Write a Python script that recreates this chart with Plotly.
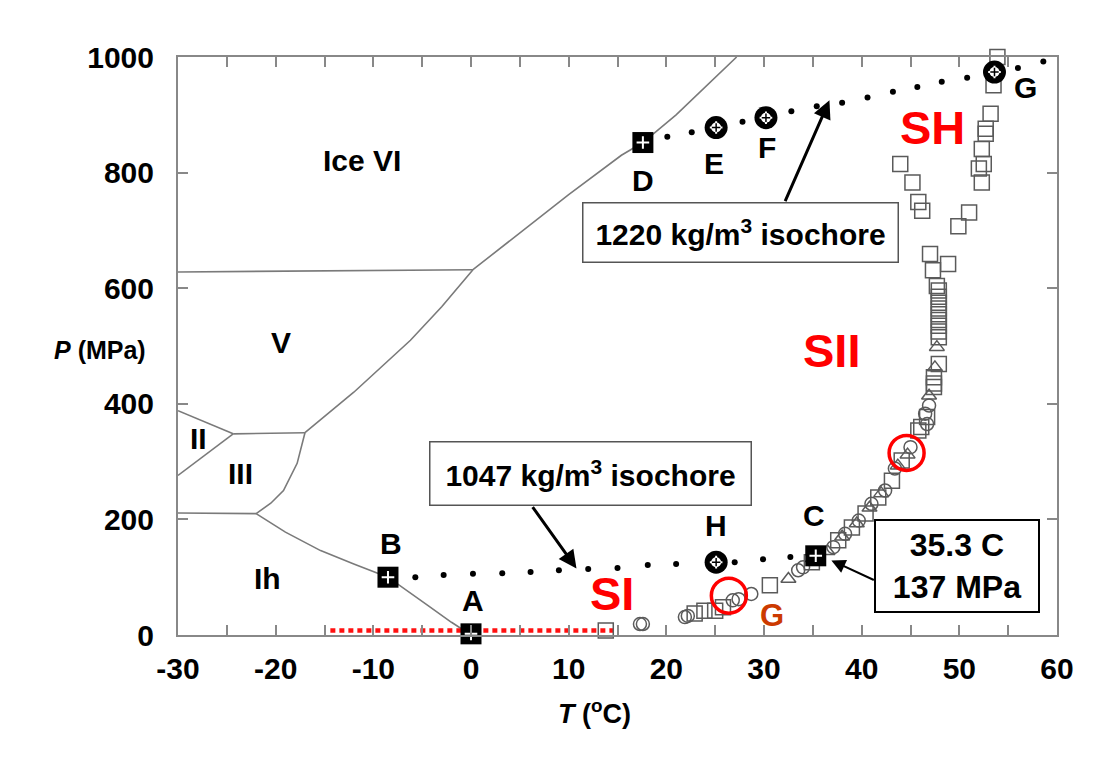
import plotly.graph_objects as go

# ---------------- data ----------------
# phase boundaries (T in C, P in MPa)
ih_l_T = [0.0, -2.0, -4.5, -8.5, -12.0, -15.4, -19.0, -22.0]
ih_l_P = [0.1, 22, 52, 100, 123, 146, 178, 210]
ih_iii_T = [-22.0, -30.0]
ih_iii_P = [210, 211]
iii_l_T = [-22.0, -20.5, -19.2, -17.8, -17.0]
iii_l_P = [210, 228, 250, 297, 350]
ii_iii_T = [-30.0, -24.35]
ii_iii_P = [276, 348]
ii_v_T = [-30.0, -24.35]
ii_v_P = [388, 348]
iii_v_T = [-24.35, -17.0]
iii_v_P = [348, 350]
v_l_T = [-17.0, -12.0, -6.2, -3.0, 0.2]
v_l_P = [350, 420, 510, 568, 632]
v_vi_T = [-30.0, 0.2]
v_vi_P = [628, 632]
vi_l_T = [0.2, 5.0, 10.0, 15.4, 17.6, 21.0, 27.2]
vi_l_P = [632, 695, 762, 830, 852, 900, 1000]

# isochores (dots)
iso1047_T = [-5.7, -2.8, 0.2, 3.2, 6.1, 9.0, 12.0, 15.0, 18.1, 21.0, 27.0, 29.9, 32.7]
iso1047_P = [100, 104, 106, 107, 109, 112, 114, 116, 121, 123, 126, 131, 135]
iso1220_T = [20.1, 22.6, 27.8, 32.8, 35.4, 38.0, 40.6, 43.2, 45.7, 48.2, 50.8, 56.0, 58.6]
iso1220_P = [862, 870, 888, 906, 915, 921, 930, 940, 948, 957, 964, 981, 992]

# key states
key_sq_T = [0.0, -8.5, 35.3, 17.6]
key_sq_P = [2, 100, 137, 852]
key_ci_T = [25.1, 30.2, 53.6, 25.1]
key_ci_P = [878, 895, 974, 126]
key_names = ["A", "B", "C", "D", "E", "F", "G", "H"]
key_lab_T = [0.2, -8.2, 35.1, 17.6, 24.9, 30.3, 56.8, 25.1]
key_lab_P = [60, 158, 207, 786, 816, 843, 947, 190]

# hydrate stability data
sq_T = [13.8, 22.9, 23.9, 25.0, 25.8, 30.6, 34.9, 37.6, 39.0, 40.4, 41.7, 43.1, 44.1,
        45.8, 46.1, 46.7, 47.4, 47.4, 47.4, 47.9, 47.9, 47.9, 47.9, 47.9, 47.9, 47.9,
        47.9, 47.9, 47.9, 47.7, 47.3, 48.85, 47.0, 49.9, 51.0, 46.2, 45.8, 45.2, 43.95,
        52.3, 52.0, 52.5, 52.3, 52.7, 52.7, 53.2, 53.5, 53.9]
sq_P = [8, 37, 42, 42, 48, 86, 126, 164, 186, 210, 238, 267, 302,
        354, 360, 377, 429, 435, 446, 469, 515, 525, 535, 545, 555, 565,
        575, 585, 596, 604, 631, 642, 659, 707, 731, 734, 749, 783, 815,
        783, 807, 815, 841, 867, 876, 902, 951, 1000]
ci_T = [17.3, 17.6, 21.9, 22.2, 26.8, 27.4, 28.7, 33.5, 34.0, 37.1, 38.3, 39.7, 41.0,
        42.4, 43.4, 45.0, 46.5, 46.9, 46.7]
ci_P = [19, 19, 31, 33, 60, 62, 71, 112, 117, 152, 175, 198, 227,
        250, 288, 325, 383, 397, 365]
tr_T = [32.5, 36.5, 38.0, 39.5, 40.8, 42.0, 43.7, 44.7, 46.9, 47.5, 47.7]
tr_P = [97, 145, 170, 193, 220, 245, 293, 312, 414, 463, 498]

# highlighted points (red circles)
red_T = [26.4, 44.6]
red_P = [68, 315]

# red dotted line (1 atm path)
atm_T = [-14.4, 14.6]
atm_P = [8, 8]

x_ticks = [-30, -20, -10, 0, 10, 20, 30, 40, 50, 60]
x_tick_text = ["-30", "-20", "-10", "0", "10", "20", "30", "40", "50", "60"]
y_ticks = [0, 200, 400, 600, 800, 1000]
y_tick_text = ["0", "200", "400", "600", "800", "1000"]

# ---------------- figure ----------------
fig = go.Figure()
GRAY = "#7a7a7a"
bound = [(ih_l_T, ih_l_P), (ih_iii_T, ih_iii_P), (iii_l_T, iii_l_P), (ii_iii_T, ii_iii_P),
         (ii_v_T, ii_v_P), (iii_v_T, iii_v_P), (v_l_T, v_l_P), (v_vi_T, v_vi_P), (vi_l_T, vi_l_P)]
for t, p in bound:
    fig.add_trace(go.Scatter(x=t, y=p, mode="lines", line=dict(color=GRAY, width=1.6),
                             hoverinfo="skip"))

fig.add_trace(go.Scatter(x=atm_T, y=atm_P, mode="lines",
                         line=dict(color="#ff1010", width=4.5, dash="5px,4px")))

mk_line = dict(color="#5a5a5a", width=1.5)
fig.add_trace(go.Scatter(x=sq_T, y=sq_P, mode="markers", cliponaxis=False,
                         marker=dict(symbol="square-open", size=15, color="#5a5a5a", line=mk_line)))
fig.add_trace(go.Scatter(x=ci_T, y=ci_P, mode="markers", cliponaxis=False,
                         marker=dict(symbol="circle-open", size=13, color="#5a5a5a", line=mk_line)))
fig.add_trace(go.Scatter(x=tr_T, y=tr_P, mode="markers", cliponaxis=False,
                         marker=dict(symbol="triangle-up-open", size=13, color="#5a5a5a", line=mk_line)))

fig.add_trace(go.Scatter(x=iso1047_T, y=iso1047_P, mode="markers",
                         marker=dict(symbol="circle", size=6, color="black")))
fig.add_trace(go.Scatter(x=iso1220_T, y=iso1220_P, mode="markers", cliponaxis=False,
                         marker=dict(symbol="circle", size=6, color="black")))

fig.add_trace(go.Scatter(x=key_sq_T, y=key_sq_P, mode="markers", cliponaxis=False,
                         marker=dict(symbol="square", size=21, color="black")))
fig.add_trace(go.Scatter(x=key_ci_T, y=key_ci_P, mode="markers", cliponaxis=False,
                         marker=dict(symbol="circle", size=23, color="black")))
fig.add_trace(go.Scatter(x=key_ci_T, y=key_ci_P, mode="markers", cliponaxis=False,
                         marker=dict(symbol="circle", size=10, color="white")))
fig.add_trace(go.Scatter(x=key_sq_T + key_ci_T, y=key_sq_P + key_ci_P, mode="markers",
                         cliponaxis=False,
                         marker=dict(symbol="cross-thin", size=9,
                                     line=dict(color="white", width=2))))
fig.add_trace(go.Scatter(x=key_ci_T, y=key_ci_P, mode="markers", cliponaxis=False,
                         marker=dict(symbol="cross-thin", size=6,
                                     line=dict(color="black", width=1.5))))

fig.add_trace(go.Scatter(x=red_T, y=red_P, mode="markers", cliponaxis=False,
                         marker=dict(symbol="circle-open", size=35, color="red",
                                     line=dict(color="red", width=3.5))))

BF = "Liberation Sans, Arial, sans-serif"
ann = []
for n, t, p in zip(key_names, key_lab_T, key_lab_P):
    ann.append(dict(x=t, y=p, text=n, showarrow=False,
                    font=dict(family=BF, size=30, color="black", weight="bold")))

phase_labels = [("Ice VI", -11.2, 821), ("V", -19.5, 506), ("II", -27.9, 340),
                ("III", -23.6, 279), ("Ih", -20.8, 98)]
for txt, t, p in phase_labels:
    ann.append(dict(x=t, y=p, text=txt, showarrow=False,
                    font=dict(family=BF, size=30, color="black", weight="bold")))

for txt, t, p in [("SI", 14.4, 72), ("SII", 36.9, 492), ("SH", 47.3, 878)]:
    ann.append(dict(x=t, y=p, text=txt, showarrow=False,
                    font=dict(family=BF, size=47, color="#ff0000", weight="bold")))
ann.append(dict(x=30.8, y=34, text="G", showarrow=False,
                font=dict(family=BF, size=31, color="#cc3a00", weight="bold")))

# boxes
ann.append(dict(x=27.6, y=696, text="1220 kg/m<sup>3</sup> isochore", showarrow=False,
                width=312, height=56, bgcolor="white", bordercolor="#555", borderwidth=1.5,
                borderpad=1, font=dict(family=BF, size=30, color="black", weight="bold")))
ann.append(dict(x=12.25, y=280, text="1047 kg/m<sup>3</sup> isochore", showarrow=False,
                width=318, height=60, bgcolor="white", bordercolor="#555", borderwidth=1.5,
                borderpad=1, font=dict(family=BF, size=30, color="black", weight="bold")))
ann.append(dict(x=49.8, y=119, text="35.3 C<br>137 MPa", showarrow=False,
                width=160, height=88, bgcolor="white", bordercolor="black", borderwidth=2,
                borderpad=1, font=dict(family=BF, size=32, color="black", weight="bold")))

# arrows
ann.append(dict(x=36.7, y=925, ax=32.1, ay=748, axref="x", ayref="y", text="",
                showarrow=True, arrowhead=2, arrowsize=1.2, arrowwidth=3, arrowcolor="black"))
ann.append(dict(x=10.8, y=115, ax=6.2, ay=224, axref="x", ayref="y", text="",
                showarrow=True, arrowhead=2, arrowsize=1.2, arrowwidth=3, arrowcolor="black"))
ann.append(dict(x=36.9, y=129, ax=41.4, ay=94, axref="x", ayref="y", text="",
                showarrow=True, arrowhead=2, arrowsize=1.4, arrowwidth=2, arrowcolor="black"))

# axis titles
ann.append(dict(x=-0.0887, y=0.493, xref="paper", yref="paper", showarrow=False,
                xanchor="center", yanchor="middle",
                text="<i>P</i> (MPa)", font=dict(family=BF, size=25, color="black", weight="bold")))
ann.append(dict(x=0.4744, y=-0.133, xref="paper", yref="paper", showarrow=False,
                xanchor="center", yanchor="middle",
                text="<i>T</i> (<sup>o</sup>C)", font=dict(family=BF, size=27, color="black", weight="bold")))

tickfont = dict(family=BF, size=30, color="black", weight="bold")
fig.update_layout(
    width=1109, height=752,
    margin=dict(l=170, r=60, t=49, b=125),
    paper_bgcolor="white", plot_bgcolor="white",
    showlegend=False,
    annotations=ann,
    xaxis=dict(range=[-30, 60], tickvals=x_ticks, ticktext=x_tick_text, ticks="inside",
               ticklen=10, tickwidth=1.5,
               tickcolor="#888", showline=True, linecolor="#888", linewidth=2, mirror="allticks",
               showgrid=False, zeroline=False, tickfont=tickfont, ticklabelstandoff=6,
               minor=dict(dtick=5, ticks="inside", ticklen=10, tickwidth=1.5, tickcolor="#888",
                          showgrid=False)),
    yaxis=dict(range=[0, 1000], tickvals=y_ticks, ticktext=y_tick_text, ticks="inside",
               ticklen=10, tickwidth=1.5,
               tickcolor="#888", showline=True, linecolor="#888", linewidth=2, mirror="allticks",
               showgrid=False, zeroline=False, tickfont=tickfont, ticklabelstandoff=16),
)

fig.write_html("out.html")
